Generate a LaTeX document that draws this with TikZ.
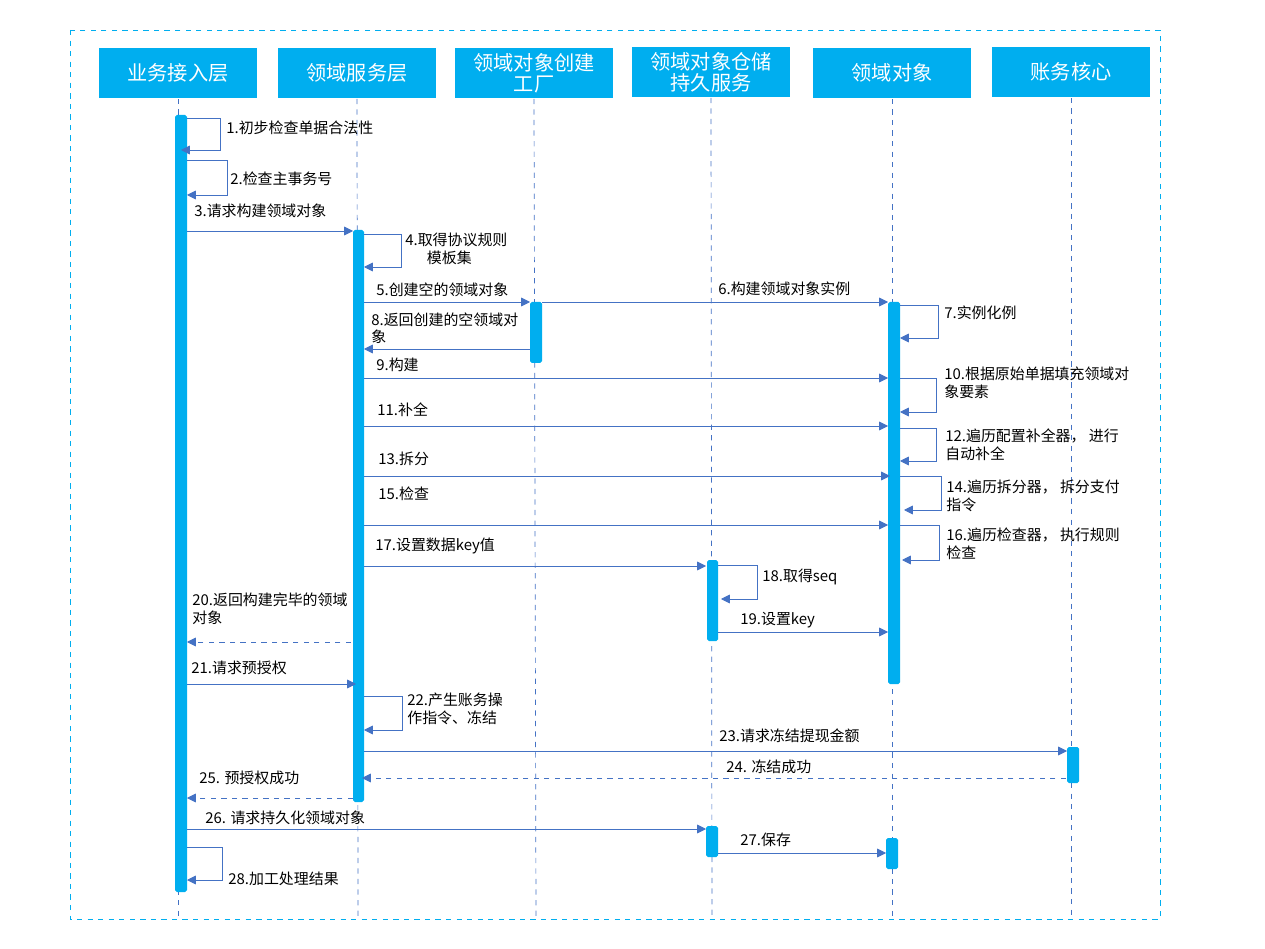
\documentclass[tikz,border=0pt]{standalone}
\usepackage{fontspec}
\setmainfont{Noto Sans CJK SC}
\usepackage{tikz}
\usetikzlibrary{arrows.meta,positioning}
\definecolor{barblue}{HTML}{00AEEF}
\definecolor{msgblue}{HTML}{4472C4}
\tikzset{
  head/.style={fill=barblue, text=white, minimum width=3.16cm, minimum height=1.02cm, inner sep=0pt, align=center, font=\fontsize{11.5}{12}\selectfont},
  life/.style={draw=msgblue, dashed, thin},
  act/.style={fill=barblue, rounded corners=1pt},
  msg/.style={draw=msgblue, -{Triangle[length=5pt,width=5pt]}},
  ret/.style={msg, dashed},
  lbl/.style={anchor=west, inner sep=0pt, align=left, font=\fontsize{8.5}{10}\selectfont}
}
\begin{document}
\begin{tikzpicture}[x=0.02cm, y=-0.02cm]
  \useasboundingbox (0,0) rectangle (1265,949);
  \draw[barblue, dashed] (70,30) rectangle (1160,919);
  % heads
  \node[head] (biz) at (178,73) {业务接入层};
  \node[head] (svc) at (357,73) {领域服务层};
  \node[head] (fac) at (534,73) {领域对象创建\\工厂};
  \node[head] (repo) at (711,72) {领域对象仓储\\持久服务};
  \node[head] (dom) at (892,73) {领域对象};
  \node[head] (acc) at (1071,72) {账务核心};
  % lifelines
  \foreach \n/\x in {biz/178,svc/358,fac/536,repo/712,dom/892,acc/1071}
    \draw[life] (\n.south) -- (\x,919);
  % activations
  \fill[act] (175,115) rectangle (187,892);
  \fill[act] (353,230) rectangle (364,802);
  \fill[act] (530,302) rectangle (542,363);
  \fill[act] (707,560) rectangle (718,641);
  \fill[act] (706,826) rectangle (718,857);
  \fill[act] (888,302) rectangle (900,684);
  \fill[act] (886,838) rectangle (898,869);
  \fill[act] (1067,747) rectangle (1079,783);
  % self calls
  \draw[msg] (187,118) -| (220,150) -- (181,150);
  \node[lbl] (m1) at (226,128) {1.初步检查单据合法性};
  \draw[msg] (187,160) -| (227,195) -- (187,195);
  \node[lbl] (m2) at (230,179) {2.检查主事务号};
  \draw[msg] (364,234) -| (401,267) -- (364,267);
  \node[lbl] (m4) at (405,249) {4.取得协议规则\\\quad\ \ 模板集};
  \draw[msg] (900,305) -| (938,338) -- (900,338);
  \node[lbl] (m7) at (944,313) {7.实例化例};
  \draw[msg] (900,378) -| (936,412) -- (900,412);
  \node[lbl] (m10) at (944,383) {10.根据原始单据填充领域对\\象要素};
  \draw[msg] (900,428) -| (936,461) -- (900,461);
  \node[lbl] (m12) at (945,445) {12.遍历配置补全器， 进行\\自动补全};
  \draw[msg] (900,476) -| (941,510) -- (904,510);
  \node[lbl] (m14) at (946,496) {14.遍历拆分器， 拆分支付\\指令};
  \draw[msg] (900,525) -| (939,560) -- (902,560);
  \node[lbl] (m16) at (946,544) {16.遍历检查器， 执行规则\\检查};
  \draw[msg] (718,565) -| (757,599) -- (721,599);
  \node[lbl] (m18) at (762,577) {18.取得seq};
  \draw[msg] (364,696) -| (402,730) -- (364,730);
  \node[lbl] (m22) at (407,709) {22.产生账务操\\作指令、冻结};
  \draw[msg] (187,847) -| (222,880) -- (187,880);
  \node[lbl] (m28) at (228,879) {28.加工处理结果};
  % calls
  \draw[msg] (187,231) -- (353,231);
  \node[lbl] (m3) at (194,211) {3.请求构建领域对象};
  \draw[msg] (364,302) -- (530,302);
  \node[lbl] (m5) at (376,290) {5.创建空的领域对象};
  \draw[msg] (542,302) -- (888,302);
  \node[lbl] (m6) at (718,289) {6.构建领域对象实例};
  \draw[msg] (530,349) -- (364,349);
  \node[lbl] (m8) at (371,328) {8.返回创建的空领域对\\象};
  \draw[msg] (364,378) -- (888,378);
  \node[lbl] (m9) at (376,365) {9.构建};
  \draw[msg] (364,426) -- (888,426);
  \node[lbl] (m11) at (377,410) {11.补全};
  \draw[msg] (364,476) -- (890,476);
  \node[lbl] (m13) at (378,459) {13.拆分};
  \draw[msg] (364,525) -- (888,525);
  \node[lbl] (m15) at (378,494) {15.检查};
  \draw[msg] (364,566) -- (706,566);
  \node[lbl] (m17) at (375,546) {17.设置数据key值};
  \draw[msg] (718,632) -- (888,632);
  \node[lbl] (m19) at (740,620) {19.设置key};
  \draw[ret] (351,642) -- (187,642);
  \node[lbl] (m20) at (192,609) {20.返回构建完毕的领域\\对象};
  \draw[msg] (187,684) -- (356,684);
  \node[lbl] (m21) at (191,668) {21.请求预授权};
  \draw[msg] (364,751) -- (1067,751);
  \node[lbl] (m23) at (719,736) {23.请求冻结提现金额};
  \draw[ret] (1066,778) -- (362,778);
  \node[lbl] (m24) at (726,767) {24. 冻结成功};
  \draw[ret] (353,798) -- (187,798);
  \node[lbl] (m25) at (199,778) {25. 预授权成功};
  \draw[msg] (187,829) -- (706,829);
  \node[lbl] (m26) at (205,818) {26. 请求持久化领域对象};
  \draw[msg] (718,853) -- (886,853);
  \node[lbl] (m27) at (740,840) {27.保存};
\end{tikzpicture}
\end{document}
